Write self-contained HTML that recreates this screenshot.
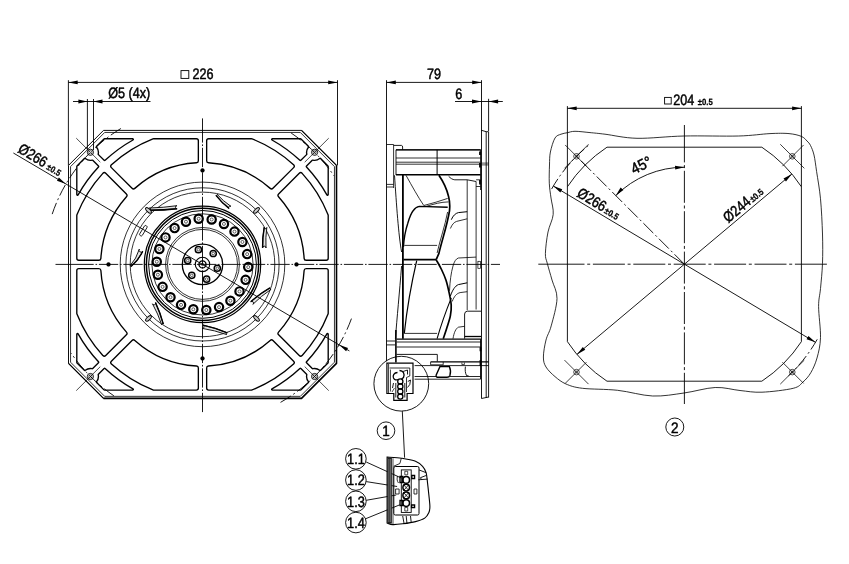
<!DOCTYPE html>
<html><head><meta charset="utf-8"><title>Fan drawing</title>
<style>
html,body{margin:0;padding:0;background:#fff;}
body{width:849px;height:564px;overflow:hidden;font-family:"Liberation Sans",sans-serif;}
svg{display:block;}
svg text{font-family:"Liberation Sans",sans-serif;text-rendering:geometricPrecision;}
</style></head><body>
<svg width="849" height="564" viewBox="0 0 849 564" fill="none" stroke="#000" stroke-linecap="butt">
<rect x="0" y="0" width="849" height="564" fill="#fff" stroke="none"/>
<g id="front">
<path d="M103.50,130.40 L301.50,130.40 L336.50,165.40 L336.50,363.40 L301.50,398.40 L103.50,398.40 L68.50,363.40 L68.50,165.40Z" stroke-width="0.95" fill="none" />
<path d="M104.70,132.45 L300.30,132.45 L334.45,166.60 L334.45,362.20 L300.30,396.35 L104.70,396.35 L70.55,362.20 L70.55,166.60Z" stroke-width="0.8" fill="none" />
<path d="M301.50,130.40 L336.50,165.40" stroke-width="1.2" fill="none" />
<path d="M336.50,165.40 L336.50,363.40 L301.50,398.40 L103.50,398.40" stroke-width="1.6" fill="none" stroke-linejoin="round"/>
<path d="M103.50,398.40 L68.50,363.40" stroke-width="1.2" fill="none" />
<path d="M208.65,160.78 A103.80,103.80 0 0 1 271.53,186.88 L292.21,166.21 A133.00,133.00 0 0 0 251.36,140.70 L208.65,140.70 Z M306.12,258.25 A103.80,103.80 0 0 0 280.02,195.37 L300.69,174.69 A133.00,133.00 0 0 1 326.20,215.54 L326.20,258.25 Z M196.35,160.78 A103.80,103.80 0 0 0 133.47,186.88 L112.79,166.21 A133.00,133.00 0 0 1 153.64,140.70 L196.35,140.70 Z M98.88,258.25 A103.80,103.80 0 0 1 124.98,195.37 L104.31,174.69 A133.00,133.00 0 0 0 78.80,215.54 L78.80,258.25 Z M208.65,368.02 A103.80,103.80 0 0 0 271.53,341.92 L292.21,362.59 A133.00,133.00 0 0 1 251.36,388.10 L208.65,388.10 Z M306.12,270.55 A103.80,103.80 0 0 1 280.02,333.43 L300.69,354.11 A133.00,133.00 0 0 0 326.20,313.26 L326.20,270.55 Z M196.35,368.02 A103.80,103.80 0 0 1 133.47,341.92 L112.79,362.59 A133.00,133.00 0 0 0 153.64,388.10 L196.35,388.10 Z M98.88,270.55 A103.80,103.80 0 0 0 124.98,333.43 L104.31,354.11 A133.00,133.00 0 0 1 78.80,313.26 L78.80,270.55 Z" stroke="#000" stroke-width="5.35" stroke-linejoin="round" fill="#000"/>
<path d="M208.65,160.78 A103.80,103.80 0 0 1 271.53,186.88 L292.21,166.21 A133.00,133.00 0 0 0 251.36,140.70 L208.65,140.70 Z M306.12,258.25 A103.80,103.80 0 0 0 280.02,195.37 L300.69,174.69 A133.00,133.00 0 0 1 326.20,215.54 L326.20,258.25 Z M196.35,160.78 A103.80,103.80 0 0 0 133.47,186.88 L112.79,166.21 A133.00,133.00 0 0 1 153.64,140.70 L196.35,140.70 Z M98.88,258.25 A103.80,103.80 0 0 1 124.98,195.37 L104.31,174.69 A133.00,133.00 0 0 0 78.80,215.54 L78.80,258.25 Z M208.65,368.02 A103.80,103.80 0 0 0 271.53,341.92 L292.21,362.59 A133.00,133.00 0 0 1 251.36,388.10 L208.65,388.10 Z M306.12,270.55 A103.80,103.80 0 0 1 280.02,333.43 L300.69,354.11 A133.00,133.00 0 0 0 326.20,313.26 L326.20,270.55 Z M196.35,368.02 A103.80,103.80 0 0 1 133.47,341.92 L112.79,362.59 A133.00,133.00 0 0 0 153.64,388.10 L196.35,388.10 Z M98.88,270.55 A103.80,103.80 0 0 0 124.98,333.43 L104.31,354.11 A133.00,133.00 0 0 1 78.80,313.26 L78.80,270.55 Z" stroke="#fff" stroke-width="2.65" stroke-linejoin="round" fill="#fff"/>
<path d="M272.37,139.40 L300.51,139.40 L307.88,146.77 A8.70,8.70 0 0 0 306.10,154.15 L300.38,159.87 A143.20,143.20 0 0 0 272.37,139.40 Z M327.50,194.53 L327.50,166.39 L320.13,159.02 A8.70,8.70 0 0 1 312.75,160.80 L307.03,166.52 A143.20,143.20 0 0 1 327.50,194.53 Z M132.63,139.40 L104.49,139.40 L97.12,146.77 A8.70,8.70 0 0 1 98.90,154.15 L104.62,159.87 A143.20,143.20 0 0 1 132.63,139.40 Z M77.50,194.53 L77.50,166.39 L84.87,159.02 A8.70,8.70 0 0 0 92.25,160.80 L97.97,166.52 A143.20,143.20 0 0 0 77.50,194.53 Z M272.37,389.40 L300.51,389.40 L307.88,382.03 A8.70,8.70 0 0 1 306.10,374.65 L300.38,368.93 A143.20,143.20 0 0 1 272.37,389.40 Z M327.50,334.27 L327.50,362.41 L320.13,369.78 A8.70,8.70 0 0 0 312.75,368.00 L307.03,362.28 A143.20,143.20 0 0 0 327.50,334.27 Z M132.63,389.40 L104.49,389.40 L97.12,382.03 A8.70,8.70 0 0 0 98.90,374.65 L104.62,368.93 A143.20,143.20 0 0 0 132.63,389.40 Z M77.50,334.27 L77.50,362.41 L84.87,369.78 A8.70,8.70 0 0 1 92.25,368.00 L97.97,362.28 A143.20,143.20 0 0 1 77.50,334.27 Z" stroke="#000" stroke-width="2.75" stroke-linejoin="round" fill="#000"/>
<path d="M272.37,139.40 L300.51,139.40 L307.88,146.77 A8.70,8.70 0 0 0 306.10,154.15 L300.38,159.87 A143.20,143.20 0 0 0 272.37,139.40 Z M327.50,194.53 L327.50,166.39 L320.13,159.02 A8.70,8.70 0 0 1 312.75,160.80 L307.03,166.52 A143.20,143.20 0 0 1 327.50,194.53 Z M132.63,139.40 L104.49,139.40 L97.12,146.77 A8.70,8.70 0 0 1 98.90,154.15 L104.62,159.87 A143.20,143.20 0 0 1 132.63,139.40 Z M77.50,194.53 L77.50,166.39 L84.87,159.02 A8.70,8.70 0 0 0 92.25,160.80 L97.97,166.52 A143.20,143.20 0 0 0 77.50,194.53 Z M272.37,389.40 L300.51,389.40 L307.88,382.03 A8.70,8.70 0 0 1 306.10,374.65 L300.38,368.93 A143.20,143.20 0 0 1 272.37,389.40 Z M327.50,334.27 L327.50,362.41 L320.13,369.78 A8.70,8.70 0 0 0 312.75,368.00 L307.03,362.28 A143.20,143.20 0 0 0 327.50,334.27 Z M132.63,389.40 L104.49,389.40 L97.12,382.03 A8.70,8.70 0 0 0 98.90,374.65 L104.62,368.93 A143.20,143.20 0 0 0 132.63,389.40 Z M77.50,334.27 L77.50,362.41 L84.87,369.78 A8.70,8.70 0 0 1 92.25,368.00 L97.97,362.28 A143.20,143.20 0 0 1 77.50,334.27 Z" stroke="#fff" stroke-width="0.05" stroke-linejoin="round" fill="#fff"/>
<circle cx="90.40" cy="152.30" r="3.10" stroke-width="0.9" fill="none"/>
<circle cx="90.40" cy="152.30" r="1.70" stroke-width="0.6" fill="none"/>
<line x1="100.30" y1="162.20" x2="76.26" y2="138.16" stroke-width="0.7" />
<circle cx="90.40" cy="376.50" r="3.10" stroke-width="0.9" fill="none"/>
<circle cx="90.40" cy="376.50" r="1.70" stroke-width="0.6" fill="none"/>
<line x1="100.30" y1="366.60" x2="76.26" y2="390.64" stroke-width="0.7" />
<circle cx="314.60" cy="152.30" r="3.10" stroke-width="0.9" fill="none"/>
<circle cx="314.60" cy="152.30" r="1.70" stroke-width="0.6" fill="none"/>
<line x1="304.70" y1="162.20" x2="328.74" y2="138.16" stroke-width="0.7" />
<circle cx="314.60" cy="376.50" r="3.10" stroke-width="0.9" fill="none"/>
<circle cx="314.60" cy="376.50" r="1.70" stroke-width="0.6" fill="none"/>
<line x1="304.70" y1="366.60" x2="328.74" y2="390.64" stroke-width="0.7" />
<path d="M52.19,214.11 A158.50,158.50 0 0 1 123.25,127.13" stroke-width="0.9" fill="none" stroke-dasharray="12 3 2 3" />
<path d="M291.13,133.00 A158.50,158.50 0 0 1 333.90,175.77" stroke-width="0.9" fill="none" stroke-dasharray="12 3 2 3" />
<path d="M351.44,318.61 A158.50,158.50 0 0 1 279.34,403.03" stroke-width="0.9" fill="none" stroke-dasharray="12 3 2 3" />
<path d="M113.87,395.80 A158.50,158.50 0 0 1 71.10,353.03" stroke-width="0.9" fill="none" stroke-dasharray="12 3 2 3" />
<circle cx="108.50" cy="264.40" r="1.90" stroke-width="0.5" fill="#000"/>
<circle cx="296.50" cy="264.40" r="1.90" stroke-width="0.5" fill="#000"/>
<circle cx="202.50" cy="170.40" r="1.90" stroke-width="0.5" fill="#000"/>
<circle cx="202.50" cy="358.40" r="1.90" stroke-width="0.5" fill="#000"/>
<circle cx="202.50" cy="264.40" r="82.30" stroke-width="0.8" fill="none"/>
<circle cx="202.50" cy="264.40" r="76.60" stroke-width="0.8" fill="none"/>
<circle cx="202.50" cy="264.40" r="72.30" stroke-width="0.8" fill="none"/>
<circle cx="202.50" cy="264.40" r="58.20" stroke-width="1.2" fill="none"/>
<circle cx="202.50" cy="264.40" r="56.10" stroke-width="1.5" fill="none"/>
<circle cx="202.50" cy="264.40" r="53.90" stroke-width="1.0" fill="none"/>
<circle cx="198.67" cy="218.76" r="4.15" stroke-width="2.2" fill="none"/>
<circle cx="198.67" cy="218.76" r="1.50" stroke-width="0.6" fill="none"/>
<circle cx="211.68" cy="219.53" r="4.15" stroke-width="2.2" fill="none"/>
<circle cx="211.68" cy="219.53" r="1.50" stroke-width="0.6" fill="none"/>
<circle cx="223.95" cy="223.93" r="4.15" stroke-width="2.2" fill="none"/>
<circle cx="223.95" cy="223.93" r="1.50" stroke-width="0.6" fill="none"/>
<circle cx="234.48" cy="231.62" r="4.15" stroke-width="2.2" fill="none"/>
<circle cx="234.48" cy="231.62" r="1.50" stroke-width="0.6" fill="none"/>
<circle cx="242.42" cy="241.95" r="4.15" stroke-width="2.2" fill="none"/>
<circle cx="242.42" cy="241.95" r="1.50" stroke-width="0.6" fill="none"/>
<circle cx="247.13" cy="254.11" r="4.15" stroke-width="2.2" fill="none"/>
<circle cx="247.13" cy="254.11" r="1.50" stroke-width="0.6" fill="none"/>
<circle cx="248.22" cy="267.10" r="4.15" stroke-width="2.2" fill="none"/>
<circle cx="248.22" cy="267.10" r="1.50" stroke-width="0.6" fill="none"/>
<circle cx="245.61" cy="279.87" r="4.15" stroke-width="2.2" fill="none"/>
<circle cx="245.61" cy="279.87" r="1.50" stroke-width="0.6" fill="none"/>
<circle cx="239.50" cy="291.39" r="4.15" stroke-width="2.2" fill="none"/>
<circle cx="239.50" cy="291.39" r="1.50" stroke-width="0.6" fill="none"/>
<circle cx="230.40" cy="300.72" r="4.15" stroke-width="2.2" fill="none"/>
<circle cx="230.40" cy="300.72" r="1.50" stroke-width="0.6" fill="none"/>
<circle cx="219.04" cy="307.11" r="4.15" stroke-width="2.2" fill="none"/>
<circle cx="219.04" cy="307.11" r="1.50" stroke-width="0.6" fill="none"/>
<circle cx="206.33" cy="310.04" r="4.15" stroke-width="2.2" fill="none"/>
<circle cx="206.33" cy="310.04" r="1.50" stroke-width="0.6" fill="none"/>
<circle cx="193.32" cy="309.27" r="4.15" stroke-width="2.2" fill="none"/>
<circle cx="193.32" cy="309.27" r="1.50" stroke-width="0.6" fill="none"/>
<circle cx="181.05" cy="304.87" r="4.15" stroke-width="2.2" fill="none"/>
<circle cx="181.05" cy="304.87" r="1.50" stroke-width="0.6" fill="none"/>
<circle cx="170.52" cy="297.18" r="4.15" stroke-width="2.2" fill="none"/>
<circle cx="170.52" cy="297.18" r="1.50" stroke-width="0.6" fill="none"/>
<circle cx="162.58" cy="286.85" r="4.15" stroke-width="2.2" fill="none"/>
<circle cx="162.58" cy="286.85" r="1.50" stroke-width="0.6" fill="none"/>
<circle cx="157.87" cy="274.69" r="4.15" stroke-width="2.2" fill="none"/>
<circle cx="157.87" cy="274.69" r="1.50" stroke-width="0.6" fill="none"/>
<circle cx="156.78" cy="261.70" r="4.15" stroke-width="2.2" fill="none"/>
<circle cx="156.78" cy="261.70" r="1.50" stroke-width="0.6" fill="none"/>
<circle cx="159.39" cy="248.93" r="4.15" stroke-width="2.2" fill="none"/>
<circle cx="159.39" cy="248.93" r="1.50" stroke-width="0.6" fill="none"/>
<circle cx="165.50" cy="237.41" r="4.15" stroke-width="2.2" fill="none"/>
<circle cx="165.50" cy="237.41" r="1.50" stroke-width="0.6" fill="none"/>
<circle cx="174.60" cy="228.08" r="4.15" stroke-width="2.2" fill="none"/>
<circle cx="174.60" cy="228.08" r="1.50" stroke-width="0.6" fill="none"/>
<circle cx="185.96" cy="221.69" r="4.15" stroke-width="2.2" fill="none"/>
<circle cx="185.96" cy="221.69" r="1.50" stroke-width="0.6" fill="none"/>
<circle cx="202.50" cy="264.40" r="36.90" stroke-width="0.8" fill="none"/>
<circle cx="202.50" cy="264.40" r="35.00" stroke-width="0.8" fill="none"/>
<circle cx="202.50" cy="264.40" r="50.60" stroke-width="0.8" fill="none"/>
<circle cx="202.50" cy="264.40" r="20.20" stroke-width="1.3" fill="none"/>
<circle cx="198.41" cy="249.66" r="3.10" stroke-width="1.5" fill="none"/>
<circle cx="198.41" cy="249.66" r="1.30" stroke-width="0.6" fill="none"/>
<circle cx="213.22" cy="253.49" r="3.10" stroke-width="1.5" fill="none"/>
<circle cx="213.22" cy="253.49" r="1.30" stroke-width="0.6" fill="none"/>
<circle cx="217.31" cy="268.23" r="3.10" stroke-width="1.5" fill="none"/>
<circle cx="217.31" cy="268.23" r="1.30" stroke-width="0.6" fill="none"/>
<circle cx="206.59" cy="279.14" r="3.10" stroke-width="1.5" fill="none"/>
<circle cx="206.59" cy="279.14" r="1.30" stroke-width="0.6" fill="none"/>
<circle cx="191.78" cy="275.31" r="3.10" stroke-width="1.5" fill="none"/>
<circle cx="191.78" cy="275.31" r="1.30" stroke-width="0.6" fill="none"/>
<circle cx="187.69" cy="260.57" r="3.10" stroke-width="1.5" fill="none"/>
<circle cx="187.69" cy="260.57" r="1.30" stroke-width="0.6" fill="none"/>
<circle cx="202.50" cy="264.40" r="7.20" stroke-width="1.1" fill="none"/>
<circle cx="202.50" cy="264.40" r="3.50" stroke-width="1.4" fill="none"/>
<circle cx="202.50" cy="264.40" r="1.20" stroke-width="0.6" fill="none"/>
<path d="M176.90,205.70 Q163.22,207.65 149.42,208.00 A1.10,1.10 0 0 1 149.58,210.20 Q163.39,210.25 177.10,208.70 A1.5,1.5 0 0 1 176.90,205.70Z" stroke-width="0.9" fill="#e4e4e4" />
<path d="M177.10,208.70 Q163.39,210.25 149.58,210.20" stroke-width="1.4" fill="none" />
<path d="M230.96,206.38 Q223.17,201.18 217.03,194.24 A0.77,0.77 0 0 1 215.97,195.36 Q221.69,202.77 229.04,208.42 A1.4,1.4 0 0 1 230.96,206.38Z" stroke-width="0.9" fill="#e4e4e4" />
<path d="M229.04,208.42 Q221.69,202.77 215.97,195.36" stroke-width="1.4" fill="none" />
<path d="M266.00,248.00 Q265.40,237.68 266.80,227.48 A1.30,1.30 0 0 1 264.20,227.32 Q262.40,237.50 262.60,247.80 A1.7,1.7 0 0 1 266.00,248.00Z" stroke-width="0.9" fill="#e4e4e4" />
<path d="M262.60,247.80 Q262.40,237.50 264.20,227.32" stroke-width="1.4" fill="none" />
<path d="M252.84,304.35 Q261.22,295.89 271.07,289.34 A0.94,0.94 0 0 1 269.93,287.86 Q259.61,293.81 250.76,301.65 A1.7,1.7 0 0 1 252.84,304.35Z" stroke-width="0.9" fill="#e4e4e4" />
<path d="M250.76,301.65 Q259.61,293.81 269.93,287.86" stroke-width="1.4" fill="none" />
<path d="M202.03,328.33 Q214.72,330.31 226.74,334.60 A0.94,0.94 0 0 1 227.26,332.80 Q215.44,327.78 202.97,325.07 A1.7,1.7 0 0 1 202.03,328.33Z" stroke-width="0.9" fill="#e4e4e4" />
<path d="M202.97,325.07 Q215.44,327.78 227.26,332.80" stroke-width="1.4" fill="none" />
<path d="M152.51,303.80 Q158.03,313.89 161.68,324.73 A0.88,0.88 0 0 1 163.32,324.07 Q160.33,312.97 155.49,302.60 A1.6,1.6 0 0 1 152.51,303.80Z" stroke-width="0.9" fill="#e4e4e4" />
<path d="M155.49,302.60 Q160.33,312.97 163.32,324.07" stroke-width="1.4" fill="none" />
<path d="M139.33,249.10 Q136.50,258.69 130.00,265.87 A0.60,0.60 0 0 1 131.00,266.53 Q138.68,260.12 142.67,251.30 A2.0,2.0 0 0 1 139.33,249.10Z" stroke-width="0.9" fill="#e4e4e4" />
<path d="M142.67,251.30 Q138.68,260.12 131.00,266.53" stroke-width="1.4" fill="none" />
<ellipse cx="148.50" cy="210.40" rx="3.7" ry="1.6" transform="rotate(45 148.50 210.40)" stroke-width="1.0" fill="#ccc"/>
<ellipse cx="256.50" cy="210.40" rx="3.7" ry="1.6" transform="rotate(-45 256.50 210.40)" stroke-width="1.0" fill="#ccc"/>
<ellipse cx="256.50" cy="318.40" rx="3.7" ry="1.6" transform="rotate(45 256.50 318.40)" stroke-width="1.0" fill="#ccc"/>
<ellipse cx="148.50" cy="318.40" rx="3.7" ry="1.6" transform="rotate(-45 148.50 318.40)" stroke-width="1.0" fill="#ccc"/>
<rect x="141.80" y="224.90" width="3.0" height="11.5" rx="1.3" transform="rotate(31 143.20 230.80)" stroke-width="0.8" fill="none"/>
<line x1="55.50" y1="264.40" x2="500.00" y2="264.40" stroke-width="0.9" stroke-dasharray="38.2 1.8 1.6 1.8 19.3 1.8 1.6 1.8 19.3 1.8 1.6 1.8 19.3 1.8 1.6 1.8 19.3 1.8 1.6 1.8 19.3 1.8 1.6 1.8 19.3 1.8 1.6 1.8 19.3 1.8 1.6 1.8 19.3 1.8 1.6 1.8 19.3 1.8 1.6 1.8 19.3 1.8 1.6 1.8 19.3 1.8 1.6 1.8 19.3 1.8 1.6 1.8 19.3 1.8 1.6 1.8 19.3 1.8 1.6 1.8 19.3 1.8 1.6 1.8 19.3 1.8 1.6 1.8 19.3 1.8 1.6 1.8 19.3 1.8 1.6 1.8 19.3 1.8 1.6 1.8 19.3" />
<line x1="202.50" y1="118.40" x2="202.50" y2="413.50" stroke-width="0.9" stroke-dasharray="24.2 1.8 1.6 1.8 19.3 1.8 1.6 1.8 19.3 1.8 1.6 1.8 19.3 1.8 1.6 1.8 19.3 1.8 1.6 1.8 19.3 1.8 1.6 1.8 19.3 1.8 1.6 1.8 19.3 1.8 1.6 1.8 19.3 1.8 1.6 1.8 19.3 1.8 1.6 1.8 19.3 1.8 1.6 1.8 19.3 1.8 1.6 1.8 19.3 1.8 1.6 1.8 19.3 1.8 1.6 1.8 19.3" />
<line x1="13.37" y1="153.00" x2="349.41" y2="350.94" stroke-width="0.9" />
<polygon points="65.93,183.96 56.95,180.87 58.88,177.60" fill="#000" stroke="none"/>
<polygon points="339.07,344.84 348.05,347.93 346.12,351.20" fill="#000" stroke="none"/>
<line x1="68.40" y1="80.20" x2="68.40" y2="165.40" stroke-width="0.9" />
<line x1="337.50" y1="80.20" x2="337.50" y2="165.40" stroke-width="0.9" />
<line x1="68.40" y1="82.40" x2="337.50" y2="82.40" stroke-width="0.9" />
<polygon points="68.40,82.40 77.70,80.50 77.70,84.30" fill="#000" stroke="none"/>
<polygon points="337.50,82.40 328.20,84.30 328.20,80.50" fill="#000" stroke="none"/>
<rect x="181" y="70.6" width="7.8" height="7.8" stroke-width="0.9" fill="none"/>
<line x1="87.40" y1="99.00" x2="87.40" y2="150.00" stroke-width="0.9" />
<line x1="93.50" y1="99.00" x2="93.50" y2="150.00" stroke-width="0.9" />
<line x1="73.00" y1="101.50" x2="150.50" y2="101.50" stroke-width="0.9" />
<polygon points="87.40,101.50 78.40,103.40 78.40,99.60" fill="#000" stroke="none"/>
<polygon points="93.50,101.50 102.50,99.60 102.50,103.40" fill="#000" stroke="none"/>
</g>
<g id="side">
<line x1="386.50" y1="80.20" x2="386.50" y2="361.30" stroke-width="0.9" />
<line x1="481.50" y1="80.20" x2="481.50" y2="131.00" stroke-width="0.9" />
<line x1="386.50" y1="82.40" x2="481.50" y2="82.40" stroke-width="0.9" />
<polygon points="386.50,82.40 395.80,80.50 395.80,84.30" fill="#000" stroke="none"/>
<polygon points="481.50,82.40 472.20,84.30 472.20,80.50" fill="#000" stroke="none"/>
<line x1="488.60" y1="98.80" x2="488.60" y2="131.00" stroke-width="0.9" />
<line x1="455.00" y1="101.50" x2="502.80" y2="101.50" stroke-width="0.9" />
<polygon points="481.50,101.50 472.00,103.40 472.00,99.60" fill="#000" stroke="none"/>
<polygon points="488.60,101.50 498.10,99.60 498.10,103.40" fill="#000" stroke="none"/>
<path d="M481.5,130.3 L481.5,398.5 M486.2,131.7 L486.2,398 M488.6,131.7 L488.6,397.5 M481.5,130.3 L486.2,131.7 L488.6,131.7 M481.5,398.5 L488.6,397" stroke-width="0.9" fill="none" />
<path d="M386.5,144.5 L393.6,144.5 L393.6,188 M386.5,184.4 L393.6,184.4 M386.5,187 L393.6,187" stroke-width="0.8" fill="none" />
<path d="M396.5,339.2 L481,339.2" stroke-width="1.3" fill="none" />
<path d="M396.5,342 L481,342 M396.5,347 L481,347 M386.5,341 L395,341 M386.5,344.9 L395,344.9" stroke-width="0.85" fill="none" />
<path d="M393.6,145.4 L401.5,145.4 Q402.6,145.6 402.6,147 L402.6,149.8" stroke-width="0.9" fill="none" />
<path d="M396,149.8 L480.6,149.8 M396,158 L480.6,158 M396,162.2 L480.6,162.2 M396,164.2 L480.6,164.2" stroke-width="0.8" fill="none" />
<path d="M396,149.8 L396,175 M480.6,149.8 L480.6,190" stroke-width="0.9" fill="none" />
<path d="M396,174.8 L480.6,174.8" stroke-width="1.5" fill="none" />
<path d="M437.1,149.8 L437.1,174.8" stroke-width="1.0" fill="none" />
<path d="M396,149.8 L480.6,149.8" stroke-width="1.2" fill="none" />
<path d="M480,151.5 L480,155 M480,163 L480,167.5 M480,180 L480,184.5" stroke-width="1.8" fill="none" />
<path d="M481.5,163.1 L488.6,163.1 M481.5,164.9 L488.6,164.9" stroke-width="0.7" fill="none" />
<path d="M402.9,175 L402.9,338.7" stroke-width="1.8" fill="none" />
<path d="M394.5,175.3 C396.5,205 398.5,235 401.6,252" stroke-width="0.9" fill="none" />
<path d="M401.6,266 C399.5,292 397,318 395.4,338.7" stroke-width="0.9" fill="none" />
<path d="M406,175.3 C412,186 418,197 423.8,205.5 C432,203.5 440,201 447.7,198.4" stroke-width="0.8" fill="none" />
<path d="M426.4,206.3 C434,204 441,202 448.6,201.9" stroke-width="0.8" fill="none" />
<path d="M438.9,175.3 C443.5,182 446.8,189 448.6,196.6 C450,202 450,206 449.5,210.8 C447,226 442,240 438.9,253.4 L436.2,259.7" stroke-width="1.7" fill="none" />
<path d="M447.6,212 C445,226 440,240 437.1,253" stroke-width="0.8" fill="none" />
<path d="M403.4,247 C404,238 405.5,230 407.8,223.2 C409.5,217.5 411,213.5 413.1,210.8 C415,208 417,206.7 419.3,206.4 L447.7,207.2" stroke-width="1.4" fill="none" />
<path d="M404.3,245.4 L437.1,245.4" stroke-width="0.8" fill="none" />
<path d="M403.4,259.7 L436.2,259.7" stroke-width="1.8" fill="none" />
<path d="M416.7,260.6 C411.5,283 407,308 404.3,333.4" stroke-width="1.2" fill="none" />
<path d="M436.20,259.80 C437.08,261.42 439.87,266.10 441.50,269.50 C443.13,272.90 444.73,276.35 446.00,280.20 C447.27,284.05 448.23,288.47 449.10,292.60 C449.97,296.73 450.98,301.17 451.20,305.00 C451.42,308.83 451.13,311.77 450.40,315.60 C449.67,319.43 447.98,324.15 446.80,328.00 C445.62,331.85 443.88,336.92 443.30,338.70 " stroke-width="1.7" fill="none" />
<path d="M451.3,297.9 C446,311 441,325 437.1,338.7" stroke-width="1.1" fill="none" />
<path d="M404.3,333.4 L437.1,333.4" stroke-width="0.8" fill="none" />
<path d="M467.2,179.8 L467.2,310.3 M476.1,181.5 L476.1,309.5" stroke-width="0.8" fill="none" />
<path d="M448.6,176.2 C450.5,178.3 452.5,179.6 454.8,179.8 L467.2,179.8 L476.1,181.5" stroke-width="0.9" fill="none" />
<path d="M451.3,219.7 C453,215.6 455.5,213.3 458.4,212.6 L467.2,211.7" stroke-width="1.0" fill="none" />
<path d="M450.4,228.5 C452,224.5 454,222.2 456.6,221.4 L467.2,218.8" stroke-width="0.8" fill="none" />
<path d="M449.5,290.8 C450,281 451,273 453,266 C454.2,261.5 456,258.7 458.4,258 L476.1,257.1" stroke-width="0.8" fill="none" />
<path d="M450.4,296 C452.5,290 455,286 458.4,284.6 L467.2,282.8" stroke-width="1.0" fill="none" />
<path d="M452.2,301.5 C454,296.5 456.5,293.5 460.1,292.6 L467.2,291.7" stroke-width="0.8" fill="none" />
<path d="M453,338.7 C454,332.5 455.8,328.5 458.4,327.2 L464.6,326.3" stroke-width="0.8" fill="none" />
<path d="M464.6,338.7 L464.6,314 Q464.8,311.2 467.5,311.2 L481,311.2" stroke-width="0.9" fill="none" />
<path d="M464.6,336.5 L481,336.5" stroke-width="1.3" fill="none" />
<rect x="477.9" y="261.3" width="2.7" height="7" stroke-width="0.7" fill="none"/>
<path d="M476.1,179.8 L480.6,179.8 M476.1,186.5 L480.6,186.5" stroke-width="0.8" fill="none" />
<path d="M395.9,330 L395.9,362.4" stroke-width="1.6" fill="none" />
<path d="M396.5,354.4 L437.3,354.4 L437.3,361.5" stroke-width="0.9" fill="none" />
<path d="M430.6,361.9 L488.6,361.9" stroke-width="1.2" fill="none" />
<path d="M430.6,361.9 L430.6,364.8 L443.2,364.8 L443.2,361.9" stroke-width="0.8" fill="none" />
<path d="M414.6,365.6 L488.6,365.6 M414.6,376.5 L436,376.5 M450,376.5 L480.5,376.5 M414.6,379.2 L480.5,379.2" stroke-width="0.85" fill="none" />
<path d="M439.9,366.6 L449.4,366.6 C450.6,369.5 450.8,373 449.9,375.6 C449.3,376.9 448.3,377.3 447,377.3 L438.5,377.3 C436.6,377.3 435.7,376.4 436.2,374.9 Z" stroke-width="1.4" fill="none" />
<path d="M465.4,366.6 C464.9,370 465.3,373.3 466.6,375.7 L468.6,375.9" stroke-width="0.9" fill="none" />
<path d="M461.9,362.5 L461.9,364.6 L464.4,364.6 L464.4,362.5" stroke-width="0.7" fill="none" />
<path d="M480.5,339.3 L480.5,379.2" stroke-width="0.9" fill="none" />
<path d="M480.5,347.3 L480.5,351.3 M480.5,360 L480.5,366" stroke-width="1.8" fill="none" />
<circle cx="401.30" cy="383.70" r="27.40" stroke-width="0.9" fill="none"/>
<line x1="402.30" y1="411.10" x2="404.60" y2="457.70" stroke-width="0.9" />
<path d="M386.9,363.2 L413,363.2 L413,393.5 L407.1,393.5 L407.1,400.4 L393.8,400.4 L393.8,393.5 L386.9,393.5 Z" stroke-width="1.2" fill="none" />
<path d="M388.6,364 L388.6,393 M389.6,368 L409.8,368 M409.8,368 L409.8,376 L406.5,377.5 L406.5,392" stroke-width="0.8" fill="none" />
<path d="M390.5,369.5 L390.5,391.5 M392,392 L394.5,388" stroke-width="0.7" fill="none" />
<path d="M397.5,372.5 C394,372.5 392.5,375.5 393.5,378 C394.5,380 396.5,380.3 398,379.5" stroke-width="1.3" fill="none" />
<path d="M399.5,370.5 C403.5,370.5 405,374 403.5,377.5 L401.5,379" stroke-width="1.3" fill="none" />
<path d="M403,371.5 L407.5,370 L407.5,374.5" stroke-width="0.9" fill="none" />
<circle cx="400.30" cy="381.40" r="2.60" stroke-width="1.3" fill="none"/>
<circle cx="400.30" cy="386.40" r="2.60" stroke-width="1.3" fill="none"/>
<circle cx="400.30" cy="391.50" r="2.60" stroke-width="1.3" fill="none"/>
<circle cx="400.30" cy="396.60" r="2.60" stroke-width="1.3" fill="none"/>
<path d="M395.8,383 L395.8,397.5 M404.8,383 L404.8,397.5" stroke-width="0.9" fill="none" />
<path d="M407.8,381.5 L410.5,380 L409.8,384.5 L407.5,387.5 M393.5,383 L392.5,388" stroke-width="0.9" fill="none" />
</g>
<g id="conn">
<circle cx="386.00" cy="430.70" r="8.80" stroke-width="0.9" fill="none"/>
<circle cx="355.90" cy="458.80" r="10.30" stroke-width="0.9" fill="none"/>
<circle cx="355.90" cy="480.05" r="10.30" stroke-width="0.9" fill="none"/>
<circle cx="355.90" cy="501.30" r="10.30" stroke-width="0.9" fill="none"/>
<circle cx="355.90" cy="522.55" r="10.30" stroke-width="0.9" fill="none"/>
<line x1="366.20" y1="462.00" x2="401.50" y2="478.10" stroke-width="0.9" />
<line x1="366.20" y1="481.60" x2="397.10" y2="486.50" stroke-width="0.9" />
<line x1="366.20" y1="500.30" x2="396.20" y2="495.00" stroke-width="0.9" />
<line x1="365.00" y1="519.00" x2="399.80" y2="504.80" stroke-width="0.9" />
<path d="M387.10,457.10 C389.47,457.28 398.35,457.92 401.30,458.20 C404.25,458.48 402.43,458.28 404.80,458.80 C407.17,459.32 412.53,460.05 415.50,461.30 C418.47,462.55 420.83,464.40 422.60,466.30 C424.37,468.20 425.28,469.98 426.10,472.70 C426.92,475.42 427.03,478.82 427.50,482.60 C427.97,486.38 428.50,491.38 428.90,495.40 C429.30,499.42 429.90,503.87 429.90,506.70 C429.90,509.53 429.77,510.50 428.90,512.40 C428.03,514.30 426.93,516.57 424.70,518.10 C422.47,519.63 419.17,520.65 415.50,521.60 C411.83,522.55 406.48,523.30 402.70,523.80 C398.92,524.30 395.40,524.73 392.80,524.60 C390.20,524.47 388.05,523.27 387.10,523.00  Z" stroke-width="1.1" fill="none" />
<rect x="387.3" y="457.4" width="4.6" height="66" fill="#222" stroke="none"/>
<line x1="388.90" y1="459.00" x2="388.90" y2="522.00" stroke-width="0.5" stroke="#ccc"/>
<line x1="390.60" y1="459.00" x2="390.60" y2="522.00" stroke-width="0.5" stroke="#bbb"/>
<line x1="393.00" y1="458.20" x2="393.00" y2="524.00" stroke-width="0.7" />
<rect x="393.8" y="466.5" width="25.2" height="48.5" rx="1.5" stroke-width="1.0" fill="none"/>
<rect x="401.3" y="469.9" width="9.9" height="42.5" stroke-width="0.9" fill="none"/>
<circle cx="406.20" cy="479.90" r="3.30" stroke-width="1.5" fill="none"/>
<circle cx="406.20" cy="487.60" r="3.30" stroke-width="1.5" fill="none"/>
<circle cx="406.20" cy="495.40" r="3.30" stroke-width="1.5" fill="none"/>
<circle cx="406.20" cy="503.10" r="3.30" stroke-width="1.5" fill="none"/>
<path d="M403.4,484.5 L409,490.7 M409,484.5 L403.4,490.7 M403.4,492.3 L409,498.5 M409,492.3 L403.4,498.5" stroke-width="0.8" fill="none" />
<path d="M395.6,489 L399.1,489 L399.1,494 L395.6,494 Z M414,489 L416.9,489 L416.9,494 L414,494 Z" stroke-width="0.8" fill="none" />
<path d="M404.8,471.3 L407.7,471.3 L407.7,474.8 L404.8,474.8 Z M404.8,507.4 L407.7,507.4 L407.7,511 L404.8,511 Z" stroke-width="0.7" fill="none" />
<path d="M400,476.5 L402.8,476.5 L402.8,482.5 L400,482.5 Z M411.8,475.5 L414.6,475.5 L414.6,478.5 L411.8,478.5 Z" stroke-width="1.3" fill="none" />
<path d="M400,500.5 L402.8,500.5 L402.8,505.5 L400,505.5 Z M411.5,505 L414.6,505 L414.6,507.5 L411.5,507.5 Z" stroke-width="1.3" fill="none" />
<path d="M397.5,476 C396.8,479 397,481 398.5,483" stroke-width="0.8" fill="none" />
<path d="M401.3,458.2 L399.9,463.5 L393.5,466.3" stroke-width="0.8" fill="none" />
<path d="M419,469.9 L426.1,472.7 M420.4,477.7 L426.1,475.5 M418.3,479.8 L427.5,479.1 M420.4,477.7 L421.5,479.6" stroke-width="0.9" fill="none" />
<path d="M402.7,516 L404.1,523.7 M406.2,516 L407,523.7 M410.5,516 L411.2,522.3" stroke-width="0.9" fill="none" />
</g>
<g id="right">
<path d="M606.97,147.20 L761.83,147.20 A140.3,140.3 0 0 1 801.40,186.77 L801.40,341.63 A140.3,140.3 0 0 1 761.83,381.20 L606.97,381.20 A140.3,140.3 0 0 1 567.40,341.63 L567.40,186.77 A140.3,140.3 0 0 1 606.97,147.20Z" stroke-width="0.9" fill="none" />
<line x1="567.40" y1="106.10" x2="567.40" y2="186.77" stroke-width="0.9" />
<line x1="801.40" y1="106.10" x2="801.40" y2="186.77" stroke-width="0.9" />
<line x1="567.40" y1="108.30" x2="801.40" y2="108.30" stroke-width="0.9" />
<polygon points="567.40,108.30 576.70,106.40 576.70,110.20" fill="#000" stroke="none"/>
<polygon points="801.40,108.30 792.10,110.20 792.10,106.40" fill="#000" stroke="none"/>
<rect x="664.6" y="97.4" width="6.6" height="6.6" stroke-width="0.9" fill="none"/>
<line x1="538.30" y1="264.20" x2="827.00" y2="264.20" stroke-width="0.9" stroke-dasharray="46.2 2.7 3 2.7 32 2.7 3 2.7 32 2.7 3 2.7 32 2.7 3 2.7 32 2.7 3 2.7 32 2.7 3 2.7 32 2.7 3 2.7 32 2.7 3 2.7 32 2.7 3 2.7" />
<line x1="684.40" y1="125.00" x2="684.40" y2="404.00" stroke-width="0.9" stroke-dasharray="37.4 2.7 3 2.7 32 2.7 3 2.7 32 2.7 3 2.7 32 2.7 3 2.7 32 2.7 3 2.7 32 2.7 3 2.7 32 2.7 3 2.7 32 2.7 3 2.7 32 2.7 3 2.7" />
<circle cx="576.50" cy="156.30" r="2.80" stroke-width="0.7" fill="none"/>
<circle cx="576.50" cy="156.30" r="1.10" stroke-width="0.5" fill="none"/>
<line x1="586.40" y1="166.20" x2="565.18" y2="144.98" stroke-width="0.75" />
<line x1="588.52" y1="144.27" x2="564.47" y2="168.32" stroke-width="0.75" />
<circle cx="576.50" cy="372.10" r="2.80" stroke-width="0.7" fill="none"/>
<circle cx="576.50" cy="372.10" r="1.10" stroke-width="0.5" fill="none"/>
<line x1="586.40" y1="362.20" x2="565.18" y2="383.42" stroke-width="0.75" />
<line x1="564.47" y1="360.08" x2="588.52" y2="384.13" stroke-width="0.75" />
<circle cx="792.30" cy="156.30" r="2.80" stroke-width="0.7" fill="none"/>
<circle cx="792.30" cy="156.30" r="1.10" stroke-width="0.5" fill="none"/>
<line x1="782.40" y1="166.20" x2="803.62" y2="144.98" stroke-width="0.75" />
<line x1="804.33" y1="168.32" x2="780.28" y2="144.27" stroke-width="0.75" />
<circle cx="792.30" cy="372.10" r="2.80" stroke-width="0.7" fill="none"/>
<circle cx="792.30" cy="372.10" r="1.10" stroke-width="0.5" fill="none"/>
<line x1="782.40" y1="362.20" x2="803.62" y2="383.42" stroke-width="0.75" />
<line x1="780.28" y1="384.13" x2="804.33" y2="360.08" stroke-width="0.75" />
<line x1="684.40" y1="264.20" x2="576.50" y2="156.30" stroke-width="0.9" stroke-dasharray="14 3 2 3" />
<path d="M551.58,189.06 A152.60,152.60 0 0 1 590.45,143.95" stroke-width="0.9" fill="none" stroke-dasharray="12 3 2 3" />
<path d="M817.22,339.34 A152.60,152.60 0 0 1 788.47,375.80" stroke-width="0.9" fill="none" stroke-dasharray="12 3 2 3" />
<line x1="553.32" y1="186.06" x2="815.48" y2="342.34" stroke-width="0.9" />
<polygon points="553.32,186.06 562.28,189.19 560.34,192.46" fill="#000" stroke="none"/>
<polygon points="815.48,342.34 806.52,339.21 808.46,335.94" fill="#000" stroke="none"/>
<line x1="576.92" y1="354.38" x2="791.88" y2="174.02" stroke-width="0.9" />
<polygon points="576.92,354.38 582.83,346.95 585.27,349.86" fill="#000" stroke="none"/>
<polygon points="791.88,174.02 785.97,181.45 783.53,178.54" fill="#000" stroke="none"/>
<path d="M615.81,195.61 A97.00,97.00 0 0 1 684.40,167.20" stroke-width="0.9" fill="none" />
<polygon points="684.40,167.20 675.21,169.58 675.01,165.79" fill="#000" stroke="none"/>
<polygon points="615.81,195.61 620.62,187.43 623.45,189.97" fill="#000" stroke="none"/>
<path d="M555.00,138.00 C556.77,135.03 558.93,135.08 561.00,134.20 C563.07,133.32 565.07,133.18 567.40,132.70 C569.73,132.22 571.23,131.32 575.00,131.30 C578.77,131.28 585.00,132.12 590.00,132.60 C595.00,133.08 597.17,133.25 605.00,134.20 C612.83,135.15 623.83,138.00 637.00,138.30 C650.17,138.60 667.07,136.38 684.00,136.00 C700.93,135.62 724.27,136.40 738.60,136.00 C752.93,135.60 761.60,134.00 770.00,133.60 C778.40,133.20 783.77,133.13 789.00,133.60 C794.23,134.07 798.40,135.17 801.40,136.40 C804.40,137.63 805.48,139.48 807.00,141.00 C808.52,142.52 809.33,143.17 810.50,145.50 C811.67,147.83 812.98,150.67 814.00,155.00 C815.02,159.33 815.52,164.20 816.60,171.50 C817.68,178.80 819.52,188.38 820.50,198.80 C821.48,209.22 822.17,223.23 822.50,234.00 C822.83,244.77 822.83,254.30 822.50,263.40 C822.17,272.50 821.15,281.43 820.50,288.60 C819.85,295.77 818.60,298.23 818.60,306.40 C818.60,314.57 820.77,329.00 820.50,337.60 C820.23,346.20 818.62,352.15 817.00,358.00 C815.38,363.85 813.13,368.70 810.80,372.70 C808.47,376.70 805.93,379.40 803.00,382.00 C800.07,384.60 800.03,386.60 793.20,388.30 C786.37,390.00 770.87,391.83 762.00,392.20 C753.13,392.57 747.80,391.28 740.00,390.50 C732.20,389.72 724.53,387.08 715.20,387.50 C705.87,387.92 694.42,391.58 684.00,393.00 C673.58,394.42 663.77,396.45 652.70,396.00 C641.63,395.55 629.30,391.58 617.60,390.30 C605.90,389.02 591.10,389.35 582.50,388.30 C573.90,387.25 570.58,385.95 566.00,384.00 C561.42,382.05 558.33,379.43 555.00,376.60 C551.67,373.77 547.93,370.27 546.00,367.00 C544.07,363.73 543.40,361.50 543.40,357.00 C543.40,352.50 544.70,345.18 546.00,340.00 C547.30,334.82 549.37,332.82 551.20,325.90 C553.03,318.98 556.87,306.15 557.00,298.50 C557.13,290.85 553.62,285.85 552.00,280.00 C550.38,274.15 548.40,267.82 547.30,263.40 C546.20,258.98 545.28,258.73 545.40,253.50 C545.52,248.27 546.70,238.52 548.00,232.00 C549.30,225.48 552.70,220.07 553.20,214.40 C553.70,208.73 551.65,203.20 551.00,198.00 C550.35,192.80 549.55,188.70 549.30,183.20 C549.05,177.70 549.32,170.20 549.50,165.00 C549.68,159.80 549.48,156.50 550.40,152.00 C551.32,147.50 553.23,140.97 555.00,138.00 Z" stroke-width="0.8" fill="none" />
<circle cx="674.80" cy="427.00" r="9.00" stroke-width="0.9" fill="none"/>
</g>
<defs><filter id="gs" x="-5%" y="-5%" width="110%" height="110%" filterUnits="objectBoundingBox"><feOffset dx="0" dy="0"/></filter></defs>
<g id="labels" filter="url(#gs)"><text transform="translate(16.95,151.85) rotate(30.5) scale(0.84,1)" font-size="15" text-anchor="start" font-weight="normal" stroke="#000" stroke-width="0.5" stroke-linejoin="round" fill="#000">Ø266</text>
<text transform="translate(45.81,168.85) rotate(30.5) scale(0.86,1)" font-size="9" text-anchor="start" font-weight="bold" stroke="#000" stroke-width="0.25" stroke-linejoin="round" fill="#000">±0.5</text>
<text transform="translate(192.60,79.20) rotate(0) scale(0.84,1)" font-size="15" text-anchor="start" font-weight="normal" stroke="#000" stroke-width="0.5" stroke-linejoin="round" fill="#000">226</text>
<text transform="translate(108.30,98.00) rotate(0) scale(0.84,1)" font-size="15" text-anchor="start" font-weight="normal" stroke="#000" stroke-width="0.5" stroke-linejoin="round" fill="#000">Ø5 (4x)</text>
<text transform="translate(434.00,79.40) rotate(0) scale(0.84,1)" font-size="15" text-anchor="middle" font-weight="normal" stroke="#000" stroke-width="0.5" stroke-linejoin="round" fill="#000">79</text>
<text transform="translate(458.80,98.60) rotate(0) scale(0.84,1)" font-size="15" text-anchor="middle" font-weight="normal" stroke="#000" stroke-width="0.5" stroke-linejoin="round" fill="#000">6</text>
<text transform="translate(386.00,436.00) rotate(0) scale(0.9,1)" font-size="15" text-anchor="middle" font-weight="normal" stroke="#000" stroke-width="0.5" stroke-linejoin="round" fill="#000">1</text>
<text transform="translate(355.90,464.10) rotate(0) scale(0.85,1)" font-size="15" text-anchor="middle" font-weight="normal" stroke="#000" stroke-width="0.5" stroke-linejoin="round" fill="#000">1.1</text>
<text transform="translate(355.90,485.35) rotate(0) scale(0.85,1)" font-size="15" text-anchor="middle" font-weight="normal" stroke="#000" stroke-width="0.5" stroke-linejoin="round" fill="#000">1.2</text>
<text transform="translate(355.90,506.60) rotate(0) scale(0.85,1)" font-size="15" text-anchor="middle" font-weight="normal" stroke="#000" stroke-width="0.5" stroke-linejoin="round" fill="#000">1.3</text>
<text transform="translate(355.90,527.85) rotate(0) scale(0.85,1)" font-size="15" text-anchor="middle" font-weight="normal" stroke="#000" stroke-width="0.5" stroke-linejoin="round" fill="#000">1.4</text>
<text transform="translate(673.30,105.20) rotate(0) scale(0.84,1)" font-size="15" text-anchor="start" font-weight="normal" stroke="#000" stroke-width="0.5" stroke-linejoin="round" fill="#000">204</text>
<text transform="translate(697.80,105.20) rotate(0) scale(0.86,1)" font-size="9" text-anchor="start" font-weight="bold" stroke="#000" stroke-width="0.25" stroke-linejoin="round" fill="#000">±0.5</text>
<text transform="translate(575.99,196.08) rotate(30.8) scale(0.84,1)" font-size="15" text-anchor="start" font-weight="normal" stroke="#000" stroke-width="0.5" stroke-linejoin="round" fill="#000">Ø266</text>
<text transform="translate(603.48,212.47) rotate(30.8) scale(0.86,1)" font-size="9" text-anchor="start" font-weight="bold" stroke="#000" stroke-width="0.25" stroke-linejoin="round" fill="#000">±0.5</text>
<text transform="translate(728.31,223.18) rotate(-40) scale(0.84,1)" font-size="15" text-anchor="start" font-weight="normal" stroke="#000" stroke-width="0.5" stroke-linejoin="round" fill="#000">Ø244</text>
<text transform="translate(752.82,202.61) rotate(-40) scale(0.86,1)" font-size="9" text-anchor="start" font-weight="bold" stroke="#000" stroke-width="0.25" stroke-linejoin="round" fill="#000">±0.5</text>
<text transform="translate(634.00,174.50) rotate(-26) scale(0.9,1)" font-size="15.5" text-anchor="start" font-weight="normal" stroke="#000" stroke-width="0.5" stroke-linejoin="round" fill="#000">45°</text>
<text transform="translate(674.80,432.50) rotate(0) scale(0.9,1)" font-size="15" text-anchor="middle" font-weight="normal" stroke="#000" stroke-width="0.5" stroke-linejoin="round" fill="#000">2</text></g>
</svg>
</body></html>
